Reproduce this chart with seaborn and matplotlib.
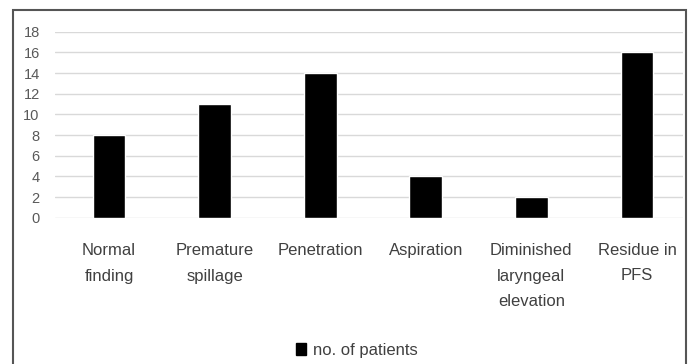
import matplotlib
matplotlib.use("Agg")
import matplotlib.pyplot as plt
import matplotlib.patches as mpatches
import seaborn as sns
import pandas as pd

categories = ["Normal\nfinding", "Premature\nspillage", "Penetration", "Aspiration",
              "Diminished\nlaryngeal\nelevation", "Residue in\nPFS"]
patients = [8, 11, 14, 4, 2, 16]
y_ticks = [0, 2, 4, 6, 8, 10, 12, 14, 16, 18]
series_name = "no. of patients"

df = pd.DataFrame({"category": categories, "count": patients})

sns.set_theme(style="white")
plt.rcParams["font.family"] = ["Liberation Sans", "DejaVu Sans"]

W, H = 690, 364
fig = plt.figure(figsize=(W / 100, H / 100), dpi=100)
ax = fig.add_axes([55 / W, (H - 217.7) / H, (683 - 55) / W, 186 / H])

sns.barplot(data=df, x="category", y="count", color="black", width=0.31,
            saturation=1, ax=ax, zorder=3)

ax.set_xlim(-0.511, 5.436)
ax.set_ylim(0, 18)
ax.set_yticks(y_ticks)
ax.yaxis.grid(True, color="#d9d9d9", linewidth=1)
ax.set_axisbelow(True)
for s in ax.spines.values():
    s.set_visible(False)
ax.set_xlabel("")
ax.set_ylabel("")
ax.tick_params(axis="y", length=0, pad=11, labelsize=10.5, labelcolor="#595959")
ax.tick_params(axis="x", length=0, pad=18, labelsize=12, labelcolor="#404040")
for lbl in ax.get_xticklabels():
    lbl.set_linespacing(1.9)
    lbl.set_verticalalignment("top")

handle = mpatches.Patch(facecolor="black", edgecolor="black", label=series_name)
fig.legend(handles=[handle], loc="center", bbox_to_anchor=(357 / W, (H - 350) / H),
           frameon=False, fontsize=12, handlelength=0.6, handleheight=0.7,
           handletextpad=0.4, labelcolor="#404040")

frame = mpatches.Rectangle((12.5 / W, -0.05), (686 - 12.5) / W, 1.05 - 10.5 / H,
                           transform=fig.transFigure, fill=False,
                           edgecolor="#555555", linewidth=1.5)
fig.patches.append(frame)

fig.savefig("out.png", dpi=100)
